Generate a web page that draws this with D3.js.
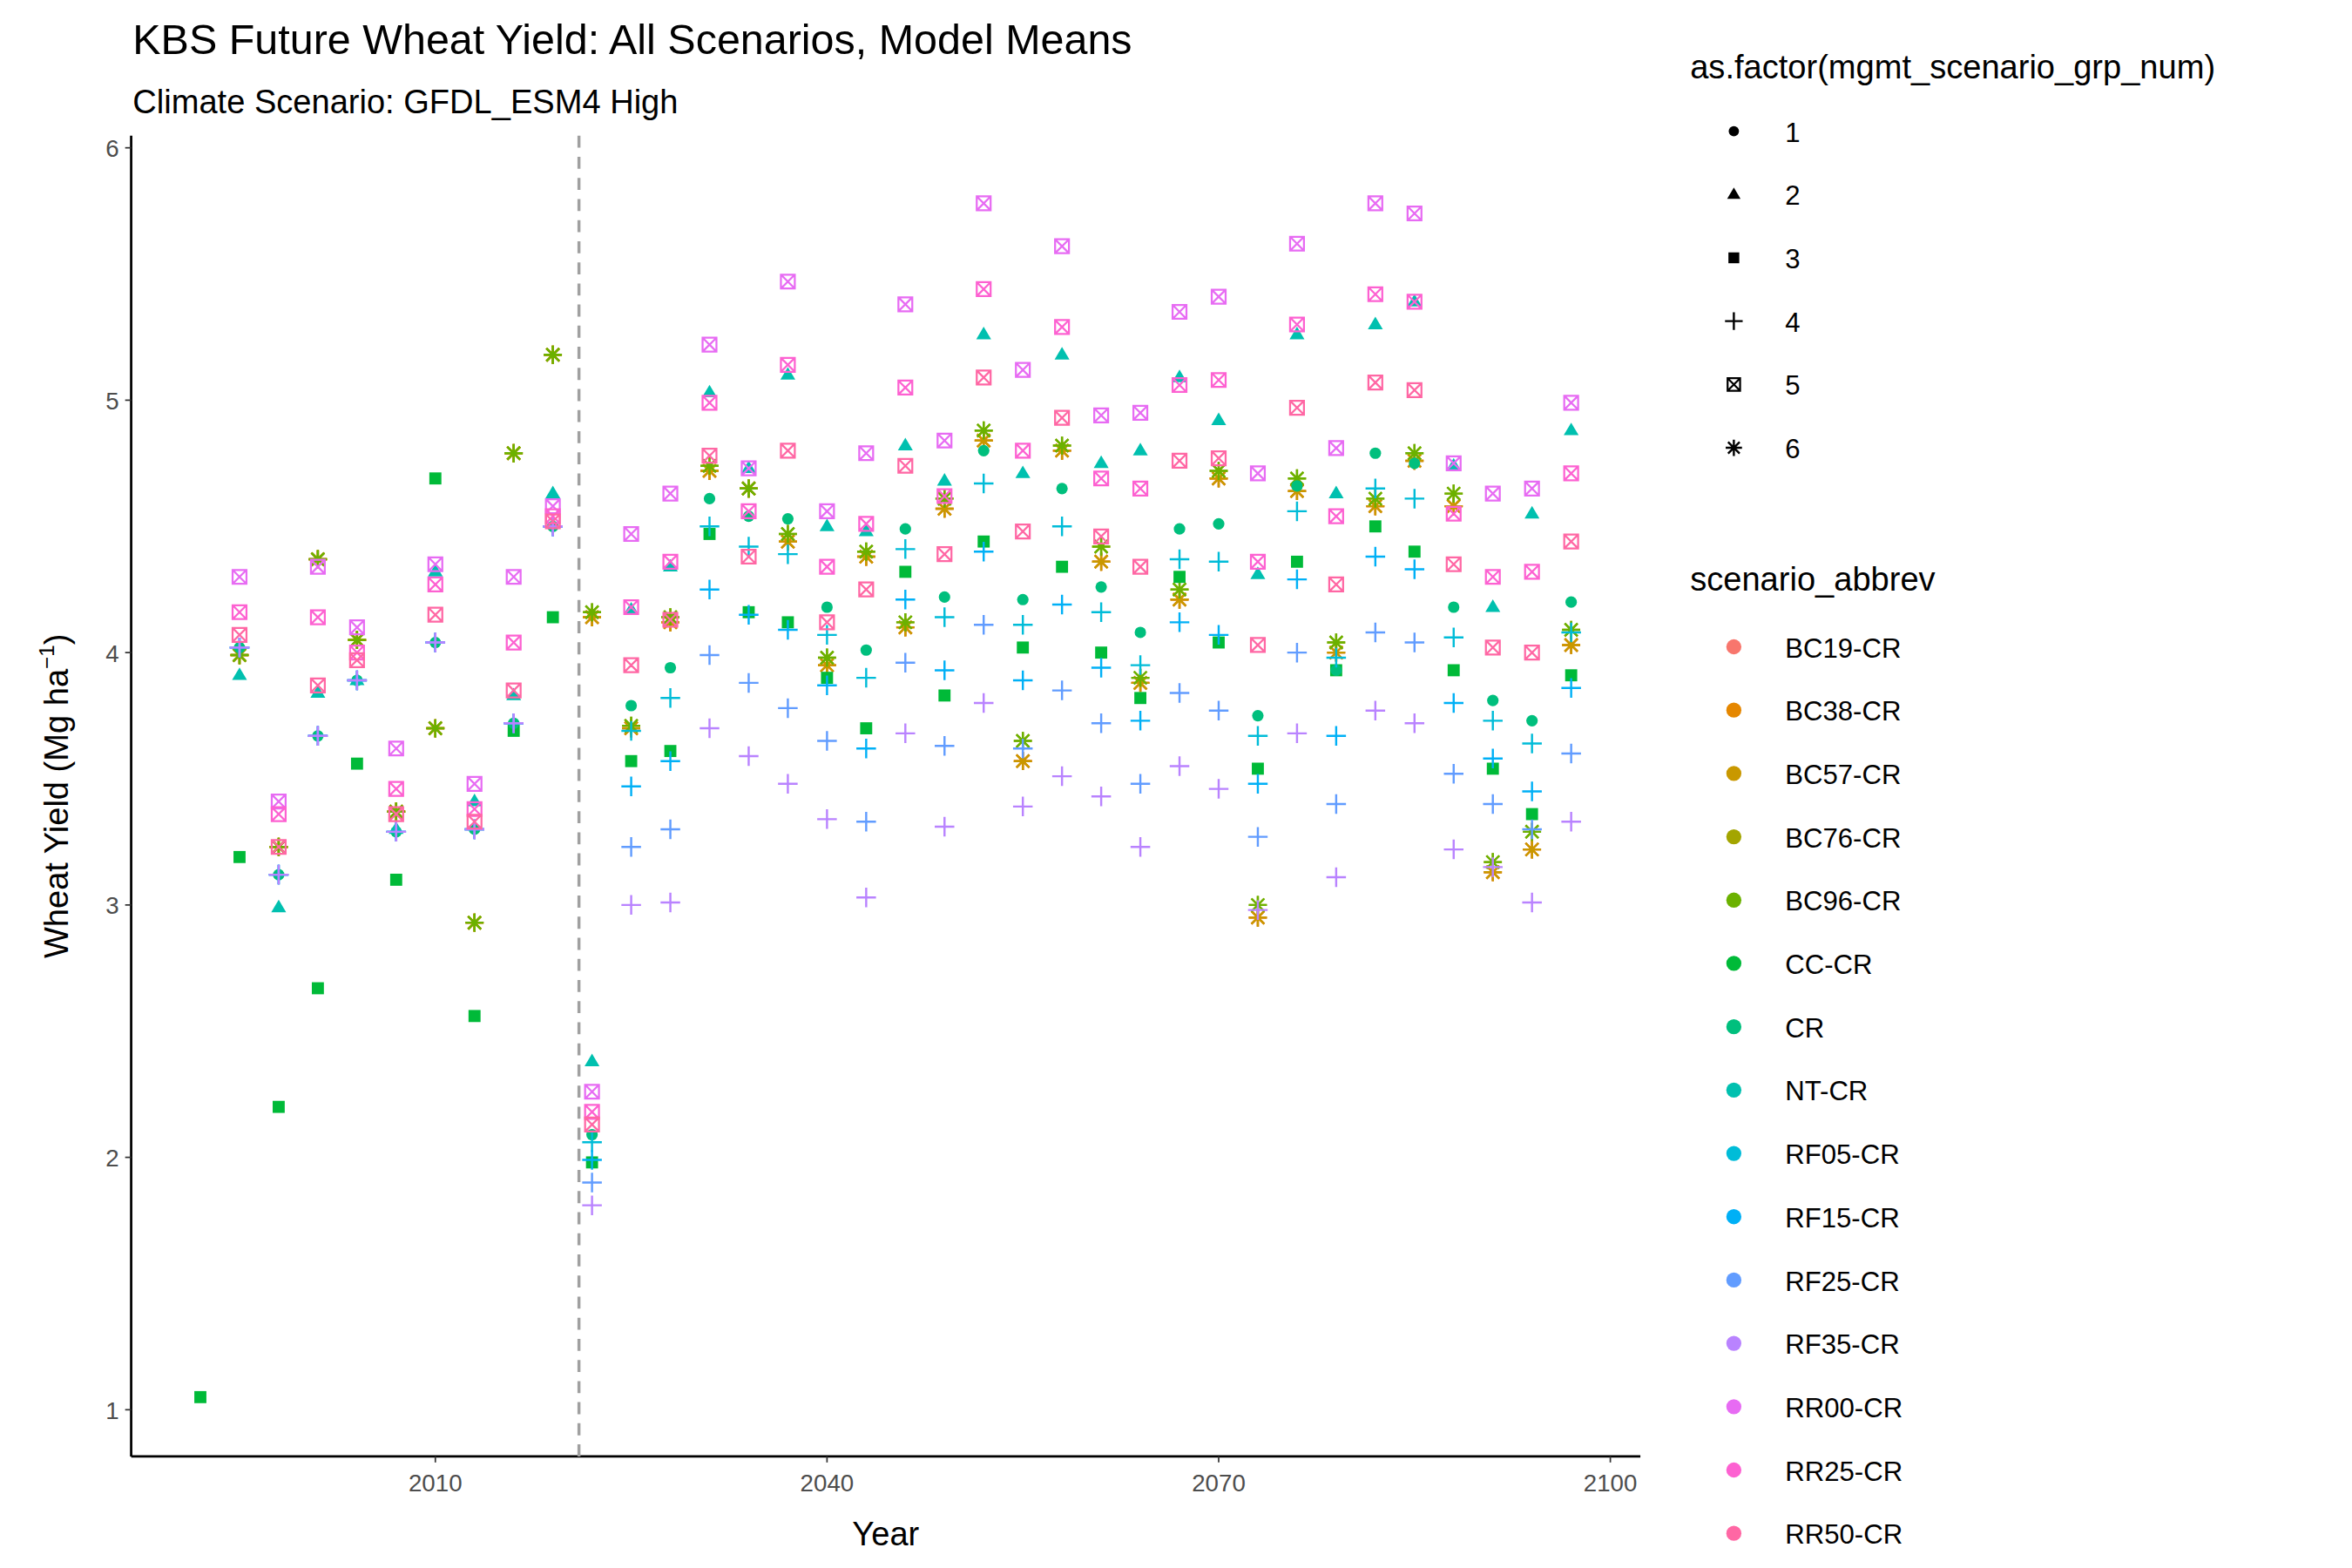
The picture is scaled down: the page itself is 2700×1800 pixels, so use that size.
<!DOCTYPE html>
<html>
<head>
<meta charset="utf-8">
<script src="https://cdn.jsdelivr.net/npm/d3@7"></script>
<style>
  body { margin: 0; background: #fff; }
  text { font-family: "Liberation Sans", Arial, sans-serif; }
</style>
</head>
<body>
<svg id="chart"></svg>
<script>
// years: historical every 3 years, then future every 3 years
const histYears = [1992, 1995, 1998, 2001, 2004, 2007, 2010, 2013, 2016, 2019];
const futYears = [2022, 2025, 2028, 2031, 2034, 2037, 2040, 2043, 2046, 2049, 2052, 2055, 2058,
                  2061, 2064, 2067, 2070, 2073, 2076, 2079, 2082, 2085, 2088, 2091, 2094, 2097];

// historical values (null = no point)
const histRR00 = [null, 4.30, 3.41, 4.34, 4.10, 3.62, 4.35, 3.48, 4.30, 4.58];
const histRR25 = [null, 4.16, 3.36, 4.14, 4.00, 3.46, 4.27, 3.38, 4.04, 4.54];
const histRR50 = [null, 4.07, 3.23, 3.87, 3.97, 3.36, 4.15, 3.33, 3.85, 4.52];
const histNT   = [null, 3.91, 2.99, 3.84, 3.89, 3.30, 4.32, 3.41, 3.83, 4.63];
const histBase = [null, 4.02, 3.12, 3.67, 3.89, 3.29, 4.04, 3.30, 3.72, 4.50];
const histCC   = [1.05, 3.19, 2.20, 2.67, 3.56, 3.10, 4.69, 2.56, 3.69, 4.14];
const histBC   = [null, 3.99, 3.23, 4.37, 4.05, 3.37, 3.70, 2.93, 4.79, 5.18];

// future values
const futRR00 = [2.26,4.47,4.63,5.22,4.73,5.47,4.56,4.79,5.38,4.84,5.78,5.12,5.61,4.94,4.95,5.35,5.41,4.71,5.62,4.81,5.78,5.74,4.75,4.63,4.65,4.99];
const futRR25 = [2.18,4.18,4.36,4.99,4.56,5.14,4.34,4.51,5.05,4.62,5.44,4.80,5.29,4.69,4.65,5.06,5.08,4.36,5.30,4.54,5.42,5.39,4.55,4.30,4.32,4.71];
const futRR50 = [2.13,3.95,4.13,4.78,4.38,4.80,4.12,4.25,4.74,4.39,5.09,4.48,4.93,4.46,4.34,4.76,4.77,4.03,4.97,4.27,5.07,5.04,4.35,4.02,4.00,4.44];
const futNT   = [2.38,4.17,4.34,5.03,4.73,5.10,4.50,4.48,4.82,4.68,5.26,4.71,5.18,4.75,4.80,5.09,4.92,4.31,5.26,4.63,5.30,5.39,4.74,4.18,4.55,4.88];
const futCR   = [2.09,3.79,3.94,4.61,4.54,4.53,4.18,4.01,4.49,4.22,4.80,4.21,4.65,4.26,4.08,4.49,4.51,3.75,4.66,3.93,4.79,4.75,4.18,3.81,3.73,4.20];
const futCC   = [1.98,3.57,3.61,4.47,4.16,4.12,3.90,3.70,4.32,3.83,4.44,4.02,4.34,4.00,3.82,4.30,4.04,3.54,4.36,3.93,4.50,4.40,3.93,3.54,3.36,3.91];
const futRF05 = [2.06,3.69,3.82,4.50,4.42,4.39,4.07,3.90,4.41,4.14,4.67,4.11,4.50,4.16,3.95,4.37,4.36,3.67,4.56,3.98,4.65,4.61,4.06,3.73,3.64,4.08];
const futRF15 = [1.99,3.47,3.57,4.25,4.15,4.09,3.87,3.62,4.21,3.93,4.40,3.89,4.19,3.94,3.73,4.12,4.07,3.48,4.29,3.67,4.38,4.33,3.80,3.58,3.45,3.86];
const futRF25 = [1.90,3.23,3.30,3.99,3.88,3.78,3.65,3.33,3.96,3.63,4.11,3.62,3.85,3.72,3.48,3.84,3.77,3.27,4.00,3.40,4.08,4.04,3.52,3.40,3.30,3.60];
const futRF35 = [1.81,3.00,3.01,3.70,3.59,3.48,3.34,3.03,3.68,3.31,3.80,3.39,3.51,3.43,3.23,3.55,3.46,2.98,3.68,3.11,3.77,3.72,3.22,3.15,3.01,3.33];
const futBCHigh = [4.16,3.71,4.14,4.74,4.65,4.47,3.98,4.40,4.12,4.61,4.88,3.65,4.82,4.42,3.90,4.25,4.72,3.00,4.69,4.04,4.61,4.79,4.63,3.17,3.29,4.09];
const futBCLow  = [4.14,3.70,4.12,4.72,4.65,4.44,3.95,4.38,4.10,4.57,4.84,3.57,4.80,4.36,3.88,4.21,4.69,2.95,4.64,4.00,4.58,4.76,4.58,3.13,3.22,4.03];

const scenarios = ["BC19-CR","BC38-CR","BC57-CR","BC76-CR","BC96-CR","CC-CR","CR","NT-CR",
                   "RF05-CR","RF15-CR","RF25-CR","RF35-CR","RR00-CR","RR25-CR","RR50-CR"];
const colors = ["#F8766D","#E58700","#C99800","#A3A500","#6BB100","#00BA38","#00BF7D","#00C0AF",
                "#00BCD8","#00B0F6","#619CFF","#B983FF","#E76BF3","#FD61D1","#FF67A4"];
const groups = [6,6,6,6,6,3,1,2,4,4,4,4,5,5,5];
const seriesValues = [
  histBC.concat(futBCLow), histBC.concat(futBCLow), histBC.concat(futBCLow),
  histBC.concat(futBCHigh), histBC.concat(futBCHigh),
  histCC.concat(futCC), histBase.concat(futCR), histNT.concat(futNT),
  histBase.concat(futRF05), histBase.concat(futRF15), histBase.concat(futRF25), histBase.concat(futRF35),
  histRR00.concat(futRR00), histRR25.concat(futRR25), histRR50.concat(futRR50)
];
const years = histYears.concat(futYears);
const xTicks = [2010, 2040, 2070, 2100];
const yTicks = [1, 2, 3, 4, 5, 6];

const W = 1552, H = 1040;
const svg = d3.select("#chart").attr("width", 2700).attr("height", 1800)
  .attr("viewBox", `0 0 ${W} ${H}`);

const pLeft = 83, pRight = 1084, pTop = 90, pBottom = 966;
const x = d3.scaleLinear().domain([1986.7, 2102.3]).range([pLeft, pRight]);
const y = d3.scaleLinear().domain([0.815, 6.048]).range([pBottom, pTop]);

// shape drawing
function drawShape(g, grp, col, px, py, s) {
  if (grp === 1) {
    g.append("circle").attr("cx", px).attr("cy", py).attr("r", 3.8 * s).attr("fill", col);
  } else if (grp === 2) {
    const r = 5.2 * s;
    g.append("path").attr("d", `M${px},${py - r}L${px + r * 0.95},${py + r * 0.6}L${px - r * 0.95},${py + r * 0.6}Z`).attr("fill", col);
  } else if (grp === 3) {
    const h = 4 * s;
    g.append("rect").attr("x", px - h).attr("y", py - h).attr("width", 2 * h).attr("height", 2 * h).attr("fill", col);
  } else if (grp === 4) {
    const h = 6.5 * s;
    g.append("path").attr("d", `M${px - h},${py}H${px + h}M${px},${py - h}V${py + h}`)
      .attr("stroke", col).attr("stroke-width", 1.4).attr("fill", "none");
  } else if (grp === 5) {
    const h = 4.6 * s;
    g.append("path").attr("d", `M${px - h},${py - h}H${px + h}V${py + h}H${px - h}ZM${px - h},${py - h}L${px + h},${py + h}M${px + h},${py - h}L${px - h},${py + h}`)
      .attr("stroke", col).attr("stroke-width", 1.3).attr("fill", "none");
  } else {
    const h = 6 * s, d = h * 0.71;
    g.append("path").attr("d", `M${px - h},${py}H${px + h}M${px},${py - h}V${py + h}M${px - d},${py - d}L${px + d},${py + d}M${px + d},${py - d}L${px - d},${py + d}`)
      .attr("stroke", col).attr("stroke-width", 1.4).attr("fill", "none");
  }
}

// axes
svg.append("line").attr("x1", pLeft).attr("x2", pLeft).attr("y1", pTop).attr("y2", pBottom).attr("stroke", "#000").attr("stroke-width", 1.6);
svg.append("line").attr("x1", pLeft).attr("x2", pRight).attr("y1", pBottom).attr("y2", pBottom).attr("stroke", "#000").attr("stroke-width", 1.6);
yTicks.forEach(t => {
  svg.append("line").attr("x1", pLeft - 4).attr("x2", pLeft).attr("y1", y(t)).attr("y2", y(t)).attr("stroke", "#333");
  svg.append("text").attr("x", pLeft - 8).attr("y", y(t) + 6).attr("text-anchor", "end")
    .attr("font-size", 16).attr("fill", "#4d4d4d").text(t);
});
xTicks.forEach(t => {
  svg.append("line").attr("x1", x(t)).attr("x2", x(t)).attr("y1", pBottom).attr("y2", pBottom + 4).attr("stroke", "#333");
  svg.append("text").attr("x", x(t)).attr("y", pBottom + 23).attr("text-anchor", "middle")
    .attr("font-size", 16).attr("fill", "#4d4d4d").text(t);
});

// dashed line at 2021
svg.append("line").attr("x1", x(2021)).attr("x2", x(2021)).attr("y1", pTop).attr("y2", pBottom)
  .attr("stroke", "#a0a0a0").attr("stroke-width", 2).attr("stroke-dasharray", "8,6");

// points
const pts = svg.append("g");
scenarios.forEach((sc, i) => {
  seriesValues[i].forEach((v, j) => {
    if (v === null) return;
    drawShape(pts, groups[i], colors[i], x(years[j]), y(v), 1);
  });
});

// titles
svg.append("text").attr("x", 84).attr("y", 36).attr("font-size", 28).attr("fill", "#000")
  .text("KBS Future Wheat Yield: All Scenarios, Model Means");
svg.append("text").attr("x", 84).attr("y", 75).attr("font-size", 22).attr("fill", "#000")
  .text("Climate Scenario: GFDL_ESM4 High");
svg.append("text").attr("x", (pLeft + pRight) / 2).attr("y", 1025).attr("text-anchor", "middle")
  .attr("font-size", 22).text("Year");
const yl = svg.append("text").attr("transform", `translate(41,${(pTop + pBottom) / 2}) rotate(-90)`)
  .attr("text-anchor", "middle").attr("font-size", 22);
yl.append("tspan").text("Wheat Yield (Mg ha");
yl.append("tspan").attr("font-size", 14).attr("dy", -9).text("−1");
yl.append("tspan").attr("dy", 9).text(")");

// legends
const lg = svg.append("g");
lg.append("text").attr("x", 1117).attr("y", 52).attr("font-size", 22).text("as.factor(mgmt_scenario_grp_num)");
[1, 2, 3, 4, 5, 6].forEach((gnum, k) => {
  const ly = 87 + k * 42;
  drawShape(lg, gnum, "#000", 1146, ly, 0.9);
  lg.append("text").attr("x", 1180).attr("y", ly + 7).attr("font-size", 18).text(gnum);
});
lg.append("text").attr("x", 1117).attr("y", 392).attr("font-size", 22).text("scenario_abbrev");
scenarios.forEach((sc, k) => {
  const ly = 429 + k * 42;
  lg.append("circle").attr("cx", 1146).attr("cy", ly).attr("r", 5).attr("fill", colors[k]);
  lg.append("text").attr("x", 1180).attr("y", ly + 7).attr("font-size", 18).text(sc);
});
</script>
</body>
</html>
